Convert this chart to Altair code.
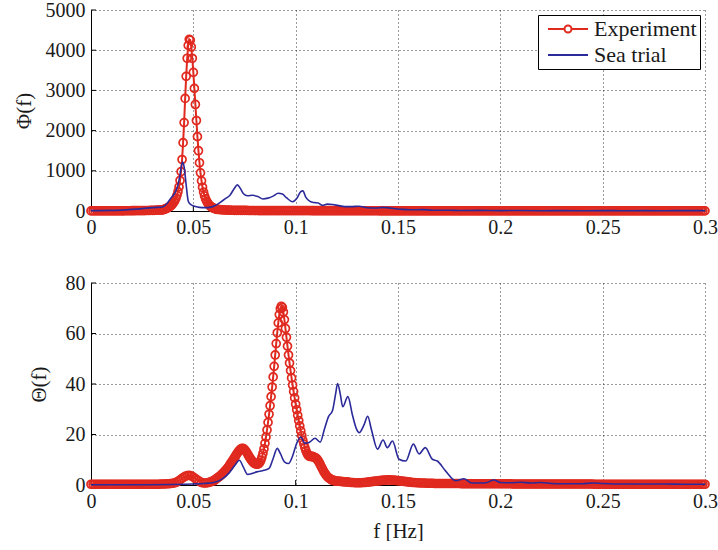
import altair as alt
import pandas as pd

# ---------------- data ----------------
series_names = ["Experiment", "Sea trial"]
x_ticks = [0, 0.05, 0.1, 0.15, 0.2, 0.25, 0.3]
phi_ticks = [0, 1000, 2000, 3000, 4000, 5000]
theta_ticks = [0, 20, 40, 60, 80]

# Phi(f), experiment: 0.000-0.034 Hz every 0.001
exp_phi_a = [2, 2, 2, 2, 2, 3, 3, 3, 3, 3,
             4, 4, 4, 4, 5, 5, 5, 6, 6, 6,
             7, 7, 8, 8, 9, 10, 11, 12, 13, 14,
             16, 18, 20, 23, 26]
# Phi(f), experiment: 0.0345-0.062 Hz every 0.0005
exp_phi_b = [28, 30, 35, 45, 55, 65, 80, 95, 110, 130,
             155, 185, 220, 265, 320, 390, 480, 600, 760, 980,
             1280, 1700, 2200, 2800, 3350, 3800, 4120, 4270, 4250, 4080,
             3800, 3450, 3050, 2650, 2250, 1850, 1500, 1200, 950, 750,
             590, 470, 375, 300, 245, 200, 165, 135, 112, 95,
             80, 68, 58, 50, 44, 38]
# Phi(f), experiment: 0.063-0.300 Hz every 0.001
exp_phi_c = [33, 29, 26, 24, 22, 20, 19, 18, 17, 16,
             15, 15, 14, 14, 13, 13, 12, 12, 12, 11,
             11, 11, 11, 10, 10, 10, 10, 10, 9, 9,
             9, 9, 9, 9, 9, 8, 8, 8, 8, 8,
             8, 8, 8, 8, 8, 7, 7, 7, 7, 7,
             7, 7, 7, 7, 7, 7, 7, 7, 6, 6,
             6, 6, 6, 6, 6, 6, 6, 6, 6, 6,
             6, 6, 6, 6, 6, 6, 6, 6, 5, 5,
             5, 5, 5, 5, 5, 5, 5, 5, 5, 5,
             5, 5, 5, 5, 5, 5, 5, 5, 5, 5,
             5, 5, 5, 5, 5, 5, 5, 5, 5, 5,
             5, 5, 5, 5, 5, 5, 5, 5, 5, 5,
             5, 5, 5, 5, 5, 5, 5, 5, 5, 5,
             5, 5, 5, 5, 5, 5, 5, 5, 5, 5,
             5, 5, 5, 5, 5, 5, 5, 5, 5, 5,
             5, 5, 5, 5, 5, 4, 4, 4, 4, 4,
             4, 4, 4, 4, 4, 4, 4, 4, 4, 4,
             4, 4, 4, 4, 4, 4, 4, 4, 4, 4,
             4, 4, 4, 4, 4, 4, 4, 4, 4, 4,
             4, 4, 4, 4, 4, 4, 4, 4, 4, 4,
             4, 4, 4, 4, 4, 4, 4, 4, 4, 4,
             4, 4, 4, 4, 4, 4, 4, 4, 4, 4,
             4, 4, 4, 4, 4, 4, 4, 4, 4, 4,
             4, 4, 4, 4, 4, 4, 4, 4]

# Phi(f), sea trial
sea_phi_f = [0, 0.01, 0.02, 0.025, 0.03, 0.035, 0.037, 0.039, 0.041, 0.0425,
             0.0435, 0.0447, 0.0455, 0.0465, 0.0475, 0.0485, 0.0495, 0.051, 0.053, 0.0555,
             0.058, 0.0605, 0.063, 0.0655, 0.068, 0.070, 0.0715, 0.073, 0.0745, 0.0765,
             0.079, 0.0815, 0.084, 0.0865, 0.089, 0.0915, 0.0935, 0.0955, 0.0985, 0.1005,
             0.1025, 0.1035, 0.105, 0.107, 0.109, 0.111, 0.113, 0.1155, 0.118, 0.1205,
             0.124, 0.127, 0.131, 0.135, 0.139, 0.143, 0.147, 0.152, 0.156, 0.162,
             0.167, 0.175, 0.18, 0.19, 0.2, 0.21, 0.22, 0.23, 0.24, 0.25,
             0.26, 0.27, 0.28, 0.29, 0.3]
sea_phi_v = [10, 15, 40, 60, 85, 100, 180, 320, 450, 650,
             900, 1220, 1100, 650, 250, 170, 140, 110, 90, 85,
             90, 130, 210, 300, 400, 560, 650, 560, 430, 380,
             390, 360, 300, 320, 370, 440, 420, 330, 230, 310,
             480, 500, 340, 240, 210, 200, 140, 170, 160, 140,
             110, 110, 120, 80, 75, 90, 70, 40, 30, 35,
             20, 20, 12, 15, 10, 12, 8, 10, 8, 10,
             8, 10, 8, 10, 8]

# Theta(f), experiment: 0.000-0.060 Hz every 0.001
exp_theta_a = [0.3, 0.3, 0.3, 0.3, 0.3, 0.3, 0.3, 0.3, 0.3, 0.3,
               0.3, 0.3, 0.3, 0.3, 0.3, 0.3, 0.3, 0.3, 0.3, 0.3,
               0.3, 0.3, 0.3, 0.3, 0.3, 0.3, 0.3, 0.3, 0.3, 0.3,
               0.3, 0.3, 0.3, 0.3, 0.4, 0.4, 0.4, 0.5, 0.5, 0.6,
               0.7, 0.9, 1.2, 1.7, 2.3, 2.9, 3.4, 3.7, 3.8, 3.6,
               3.1, 2.5, 1.9, 1.4, 1.0, 0.8, 0.8, 0.9, 1.1, 1.4,
               1.7]
# Theta(f), experiment: 0.0605-0.120 Hz every 0.0005
exp_theta_b = [2.0, 2.3, 2.6, 2.9, 3.2, 3.5, 3.9, 4.3, 4.7, 5.1,
               5.6, 6.0, 6.5, 7.0, 7.6, 8.2, 8.8, 9.4, 10.0, 10.7,
               11.3, 12.0, 12.6, 13.2, 13.7, 14.1, 14.4, 14.5, 14.4, 14.1,
               13.6, 13.0, 12.3, 11.6, 10.9, 10.3, 9.7, 9.2, 8.8, 8.5,
               8.4, 8.3, 8.3, 8.5, 9.0, 9.8, 11.0, 12.5, 14.3, 16.5,
               19.0, 21.8, 24.8, 28.0, 31.4, 35.0, 38.8, 42.8, 47.0, 51.5,
               56.0, 60.3, 64.2, 67.5, 69.8, 70.8, 70.3, 68.5, 65.5, 62.0,
               58.5, 55.0, 51.5, 48.3, 45.3, 42.4, 39.6, 37.0, 34.5, 32.0,
               29.8, 27.6, 25.5, 23.4, 21.4, 19.5, 17.7, 16.2, 14.8, 13.6,
               12.6, 11.9, 11.5, 11.3, 11.3, 11.3, 11.2, 11.0, 10.9, 10.6,
               10.2, 9.6, 8.9, 8.1, 7.3, 6.5, 5.7, 5.0, 4.4, 3.8,
               3.3, 2.9, 2.6, 2.3, 2.1, 1.9, 1.8, 1.7, 1.6, 1.5]
# Theta(f), experiment: 0.121-0.300 Hz every 0.001
exp_theta_c = [1.5, 1.4, 1.3, 1.2, 1.2, 1.1, 1.0, 1.0, 0.9, 0.9,
               0.9, 0.9, 1.0, 1.0, 1.1, 1.2, 1.3, 1.4, 1.5, 1.6,
               1.7, 1.8, 1.9, 1.9, 2.0, 2.0, 1.9, 1.9, 1.8, 1.7,
               1.6, 1.5, 1.4, 1.3, 1.2, 1.1, 1.0, 1.0, 0.9, 0.9,
               0.8, 0.8, 0.8, 0.7, 0.7, 0.7, 0.7, 0.6, 0.6, 0.6,
               0.6, 0.6, 0.6, 0.6, 0.6, 0.6, 0.6, 0.6, 0.6, 0.6,
               0.5, 0.5, 0.5, 0.5, 0.5, 0.5, 0.5, 0.5, 0.5, 0.5,
               0.5, 0.5, 0.5, 0.5, 0.5, 0.5, 0.5, 0.5, 0.5, 0.5,
               0.5, 0.5, 0.5, 0.5, 0.5, 0.4, 0.4, 0.4, 0.4, 0.4,
               0.4, 0.4, 0.4, 0.4, 0.4, 0.4, 0.4, 0.4, 0.4, 0.4,
               0.4, 0.4, 0.4, 0.4, 0.4, 0.4, 0.4, 0.4, 0.4, 0.4,
               0.4, 0.4, 0.4, 0.4, 0.4, 0.4, 0.4, 0.4, 0.4, 0.4,
               0.4, 0.4, 0.4, 0.4, 0.4, 0.3, 0.3, 0.3, 0.3, 0.3,
               0.3, 0.3, 0.3, 0.3, 0.3, 0.3, 0.3, 0.3, 0.3, 0.3,
               0.3, 0.3, 0.3, 0.3, 0.3, 0.3, 0.3, 0.3, 0.3, 0.3,
               0.3, 0.3, 0.3, 0.3, 0.3, 0.3, 0.3, 0.3, 0.3, 0.3,
               0.3, 0.3, 0.3, 0.3, 0.3, 0.3, 0.3, 0.3, 0.3, 0.3,
               0.3, 0.3, 0.3, 0.3, 0.3, 0.3, 0.3, 0.3, 0.3, 0.3]

# Theta(f), sea trial
sea_theta_f = [0, 0.02, 0.04, 0.05, 0.055, 0.06, 0.064, 0.0675, 0.0705, 0.0725,
               0.0745, 0.0765, 0.0785, 0.081, 0.0845, 0.087, 0.089, 0.091, 0.0925, 0.0945,
               0.0965, 0.0985, 0.1005, 0.1025, 0.1045, 0.1065, 0.1095, 0.112, 0.114, 0.116,
               0.118, 0.1195, 0.1205, 0.1218, 0.123, 0.1255, 0.1278, 0.1298, 0.131, 0.1335,
               0.1352, 0.137, 0.14, 0.1427, 0.1448, 0.1473, 0.1505, 0.1538, 0.1575, 0.1603,
               0.1633, 0.1668, 0.1692, 0.1733, 0.1782, 0.1822, 0.186, 0.19, 0.193, 0.1969,
               0.2, 0.205, 0.21, 0.215, 0.22, 0.225, 0.23, 0.24, 0.245, 0.25,
               0.26, 0.27, 0.28, 0.29, 0.3]
sea_theta_v = [0.1, 0.1, 0.2, 0.4, 0.6, 1.0, 2.3, 4.8, 8.0, 9.8,
               7.0, 4.2, 4.5, 5.2, 5.8, 6.6, 10.5, 14.5, 12.5, 9.2,
               8.5, 11.5, 16.5, 19.0, 16.5, 16.8, 18.5, 17.0, 22.0, 27.0,
               29.5, 36.0, 40.2, 36.0, 31.0, 35.0, 27.5, 22.0, 20.7, 24.0,
               27.2, 22.0, 14.2, 17.8, 14.8, 17.4, 10.2, 9.5, 16.2, 12.3,
               14.8, 10.2, 9.5, 5.5, 1.7, 2.5, 0.8, 0.8, 0.9, 2.0,
               1.0, 0.9, 1.1, 0.8, 1.0, 0.6, 0.5, 0.5, 0.8, 0.6,
               0.4, 0.4, 0.4, 0.3, 0.3]

# ---------------- styling ----------------
RED = "#E0291F"
BLUE = "#2B2A9A"
FONT = "'Liberation Serif', 'Times New Roman', Times, 'DejaVu Serif', serif"
W = 614
H_TOP = 201
H_BOT = 202

# legend symbols: line with a circle / plain line (unit-square SVG paths)
SYM_EXP = "M-2.857,0H-0.5M0.5,0H2.857M0.5,0A0.5,0.5,0,1,1,-0.5,0A0.5,0.5,0,1,1,0.5,0"
SYM_SEA = "M-2.857,0H2.857"


def grid_f(start, step, vals):
    return [round(start + i * step, 5) for i in range(len(vals))]


def frame(f, v, name):
    return pd.DataFrame({"f": f, "v": v, "series": name})


exp_phi = pd.concat([
    frame(grid_f(0.0, 0.001, exp_phi_a), exp_phi_a, "Experiment"),
    frame(grid_f(0.0345, 0.0005, exp_phi_b), exp_phi_b, "Experiment"),
    frame(grid_f(0.063, 0.001, exp_phi_c), exp_phi_c, "Experiment"),
], ignore_index=True)
exp_theta = pd.concat([
    frame(grid_f(0.0, 0.001, exp_theta_a), exp_theta_a, "Experiment"),
    frame(grid_f(0.0605, 0.0005, exp_theta_b), exp_theta_b, "Experiment"),
    frame(grid_f(0.121, 0.001, exp_theta_c), exp_theta_c, "Experiment"),
], ignore_index=True)
sea_phi = frame(sea_phi_f, sea_phi_v, "Sea trial")
sea_theta = frame(sea_theta_f, sea_theta_v, "Sea trial")

LEGEND = dict(title=None, orient="top-right", offset=5,
              fillColor="white", strokeColor="black", padding=3,
              labelFont=FONT, labelFontSize=22, labelColor="#1a1a1a",
              symbolSize=196, symbolStrokeWidth=2, symbolOffset=16,
              labelOffset=15, rowPadding=4)


def panel(exp_df, sea_df, ymax, yticks, ytitle, title_x, xtitle, height, with_legend):
    xs = alt.Scale(domain=[0, 0.3], nice=False, zero=False)
    ys = alt.Scale(domain=[0, ymax], nice=False)
    x_axis = alt.Axis(values=x_ticks, format="~g", title=xtitle, grid=True,
                      labelFlush=False, titlePadding=9)
    y_axis = alt.Axis(values=yticks, format="d", title=ytitle, grid=True,
                      titleX=title_x, titleY=height / 2)

    x = alt.X("f:Q", scale=xs, axis=x_axis)
    y = alt.Y("v:Q", scale=ys, axis=y_axis)

    exp_line = alt.Chart(exp_df).mark_line(color=RED, strokeWidth=2, clip=False).encode(x=x, y=y)
    exp_pts = alt.Chart(exp_df).mark_point(color=RED, filled=False, size=64,
                                           strokeWidth=1.7, opacity=1, clip=False).encode(x=x, y=y)
    sea_line = alt.Chart(sea_df).mark_line(color=BLUE, strokeWidth=1.6, clip=False,
                                           interpolate="monotone").encode(x=x, y=y)

    ytick_df = pd.DataFrame({"v": yticks})
    xtick_df = pd.DataFrame({"f": x_ticks})
    ytk = alt.Chart(ytick_df).mark_rule(color="black", strokeWidth=1).encode(
        y=y, x=alt.value(0), x2=alt.value(5))
    xtk = alt.Chart(xtick_df).mark_rule(color="black", strokeWidth=1).encode(
        x=x, y=alt.value(height), y2=alt.value(height - 5))

    layers = [ytk, xtk, exp_line, exp_pts, sea_line]
    if with_legend:
        leg = alt.Chart(sea_df).transform_filter("false").mark_point(
            filled=False, strokeWidth=2, opacity=1).encode(
            x=x, y=y,
            color=alt.Color("series:N",
                            scale=alt.Scale(domain=series_names, range=[RED, BLUE]),
                            legend=alt.Legend(**LEGEND)),
            shape=alt.Shape("series:N",
                            scale=alt.Scale(domain=series_names, range=[SYM_EXP, SYM_SEA]),
                            legend=alt.Legend(**LEGEND)),
        )
        layers.append(leg)
    return alt.layer(*layers).properties(width=W, height=height)


top = panel(exp_phi, sea_phi, 5000, phi_ticks, "Φ(f)", -57, None, H_TOP, True)
bottom = panel(exp_theta, sea_theta, 80, theta_ticks, "Θ(f)", -42, "f [Hz]", H_BOT, False)

chart = (
    alt.vconcat(top, bottom, spacing=36)
    .resolve_scale(color="independent", shape="independent")
    .properties(padding={"left": 13, "top": 0, "right": 0, "bottom": 0},
                background="white")
    .configure_view(stroke=None)
    .configure_axis(
        labelFont=FONT, labelFontSize=20, labelColor="#1a1a1a", labelPadding=6,
        titleFont=FONT, titleFontSize=21, titleFontWeight="normal", titleColor="#1a1a1a",
        domainColor="black", domainWidth=1, ticks=False,
        gridColor="#222222", gridDash=[1, 3], gridWidth=1, gridOpacity=0.9,
    )
)

chart.save("out.html", embed_options={"renderer": "svg", "actions": False})
